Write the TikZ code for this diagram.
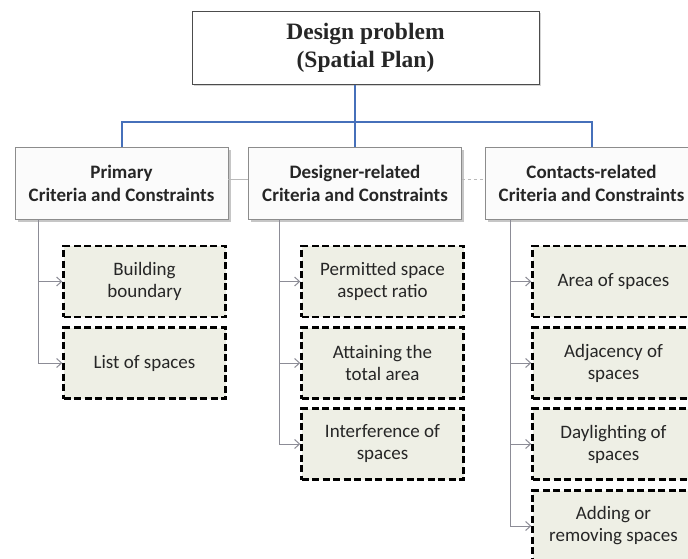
\documentclass[tikz,border=0pt]{standalone}
\usepackage{fontspec}
\setmainfont{Carlito}
\newfontfamily\headfont{Liberation Serif}
\usetikzlibrary{arrows.meta,shadows}

\definecolor{linkblue}{RGB}{70,112,186}
\definecolor{itemfill}{RGB}{238,239,229}
\definecolor{feedgray}{RGB}{140,140,150}

\tikzset{
  topbox/.style={draw=gray!60!black, line width=1pt, fill=white,
    drop shadow={shadow xshift=1.5pt, shadow yshift=-1.5pt, opacity=0.35},
    minimum width=347pt, minimum height=73pt, align=center,
    font=\headfont\bfseries\fontsize{23.5}{28}\selectfont, text=black!85},
  groupbox/.style={draw=gray!90, line width=0.9pt, fill=gray!3,
    drop shadow={shadow xshift=2.5pt, shadow yshift=-2.5pt, opacity=0.45},
    minimum width=213pt, minimum height=72pt, align=center,
    font=\bfseries\fontsize{19}{23}\selectfont, text=black!85},
  itembox/.style={draw=black, line width=2.4pt, dash pattern=on 7pt off 3.5pt,
    fill=itemfill, minimum width=162pt, minimum height=71pt, align=center,
    font=\fontsize{19}{22}\selectfont, text=black!85},
  branch/.style={draw=linkblue, line width=2pt},
  sideline/.style={draw=gray!55, line width=0.8pt},
  feed/.style={draw=feedgray, line width=1pt, -{Straight Barb[length=5pt,width=9pt]}},
}

\begin{document}
\begin{tikzpicture}[x=1pt,y=-1pt]

% Canvas
\useasboundingbox (0,0) rectangle (688,558);

% Root of the tree
\node[topbox] (plan) at (365.5,47.5) {Design problem\\(Spatial Plan)};

% Three groups of criteria
\node[groupbox] (prim) at (121.5,183) {Primary\\Criteria and Constraints};
\node[groupbox] (desg) at (355,183)   {Designer-related\\Criteria and Constraints};
\node[groupbox] (cont) at (591.5,183) {Contacts-related\\Criteria and Constraints};

% Blue branches from the root
\coordinate (hub) at (355,122);
\draw[branch] (plan.south -| hub) -- (desg.north);
\draw[branch] (prim.north) -- (prim.north |- hub) -- (cont.north |- hub) -- (cont.north);

% Thin links between the groups
\draw[sideline] ([yshift=4pt]prim.east) -- ([yshift=4pt]desg.west);
\draw[sideline, dashed] ([yshift=4pt]desg.east) -- ([yshift=4pt]cont.west);

% Primary items
\node[itembox] (bound) at (144.5,281.5) {Building\\boundary};
\node[itembox] (list)  at (144.5,363)   {List of spaces};

% Designer-related items
\node[itembox] (ratio) at (382.5,281.5) {Permitted space\\aspect ratio};
\node[itembox] (total) at (382.5,363)   {Attaining the\\total area};
\node[itembox] (inter) at (382.5,444)   {Interference of\\spaces};

% Contacts-related items
\node[itembox] (area)  at (613.5,281.5) {Area of spaces};
\node[itembox] (adjac) at (613.5,363)   {Adjacency of\\spaces};
\node[itembox] (light) at (613.5,444)   {Daylighting of\\spaces};
\node[itembox] (edit)  at (613.5,526)   {Adding or\\removing spaces};

% Trunks under each group
\coordinate (ptrunk) at (38,219);
\coordinate (dtrunk) at (279,219);
\coordinate (ctrunk) at (510,219);

% Arrows into the items
\draw[feed] (ptrunk) |- (list.west);
\draw[feed] (ptrunk |- bound.west) -- (bound.west);

\draw[feed] (dtrunk) |- (inter.west);
\draw[feed] (dtrunk |- ratio.west) -- (ratio.west);
\draw[feed] (dtrunk |- total.west) -- (total.west);

\draw[feed] (ctrunk) |- (edit.west);
\draw[feed] (ctrunk |- area.west) -- (area.west);
\draw[feed] (ctrunk |- adjac.west) -- (adjac.west);
\draw[feed] (ctrunk |- light.west) -- (light.west);

\end{tikzpicture}
\end{document}
